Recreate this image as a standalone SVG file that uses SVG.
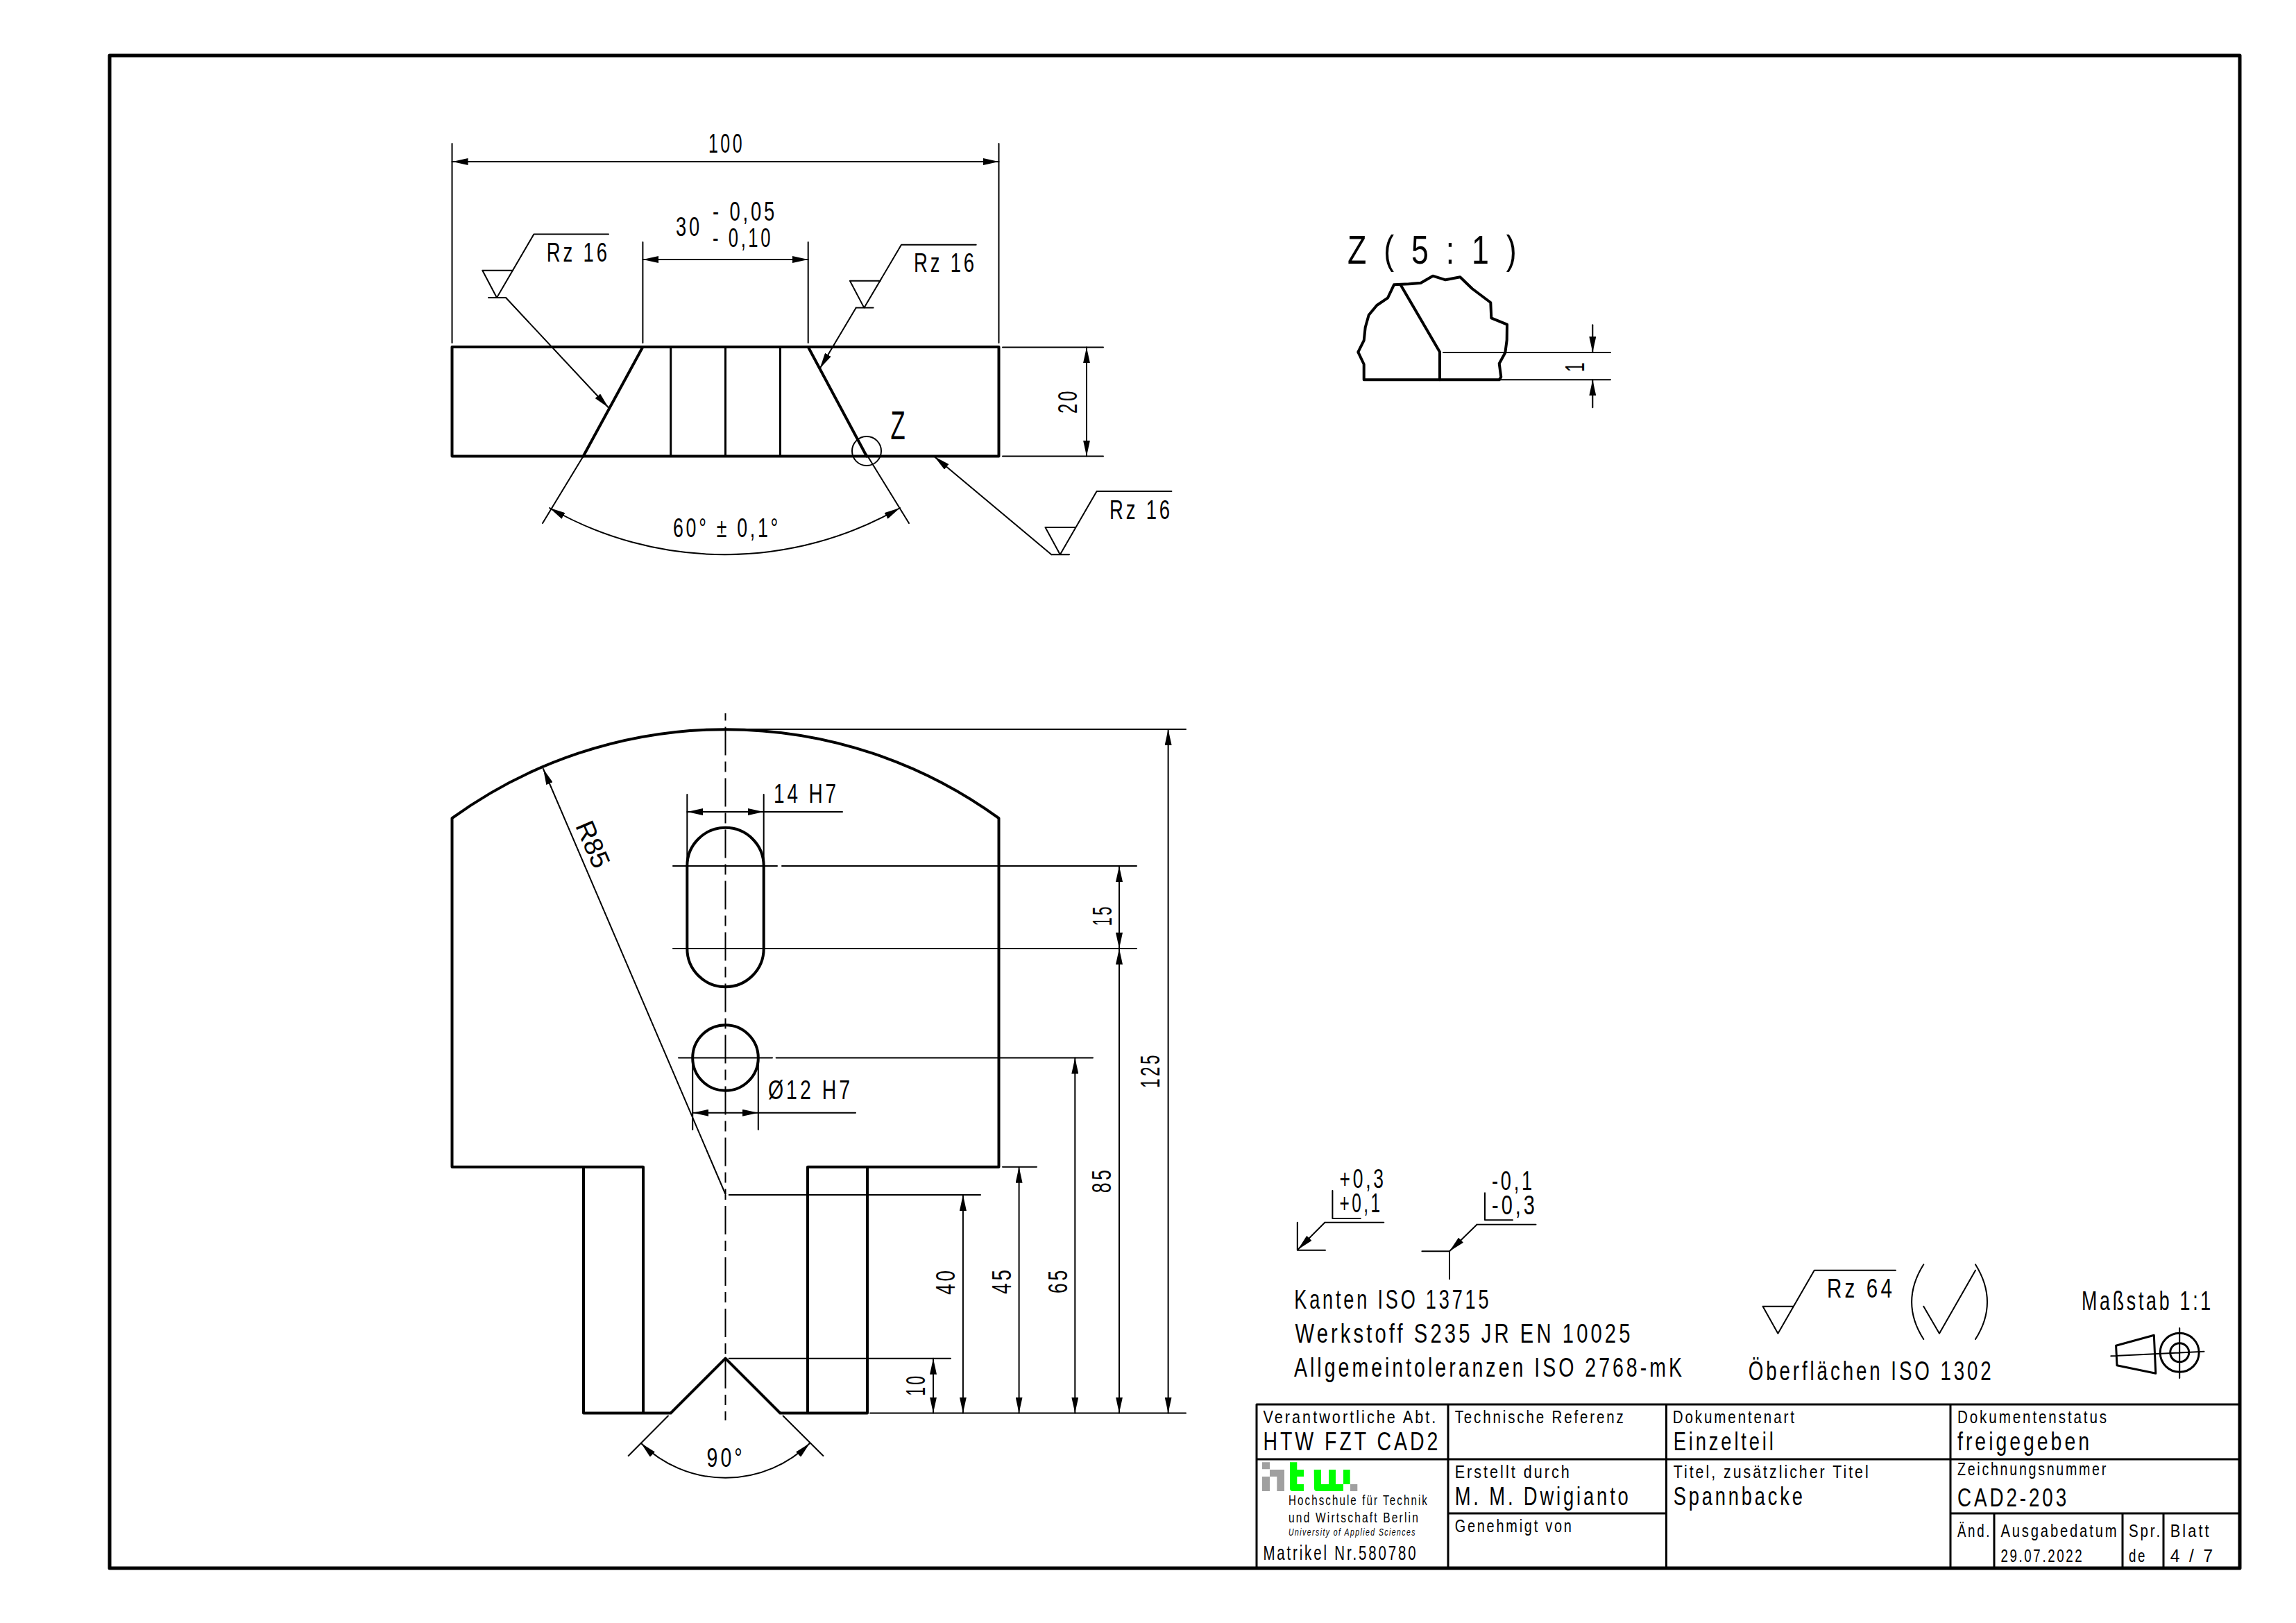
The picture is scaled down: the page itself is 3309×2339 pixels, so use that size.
<svg xmlns="http://www.w3.org/2000/svg" width="3309" height="2339" viewBox="0 0 3309 2339">
<style>
text{font-family:"Liberation Sans",Arial,sans-serif;fill:#000;font-size:39px;letter-spacing:.14em}
.s{font-size:26px}.m{font-size:36px}.l{font-size:57px}.xs{font-size:20px}.xxs{font-size:15px;font-style:italic}.n{font-size:29px}
.k,.h,.c,.b,.f{fill:none;stroke:#000;stroke-linecap:round;stroke-linejoin:round}
.k{stroke-width:4}.h{stroke-width:2}.f{stroke-width:5}.b{stroke-width:3}
.c{stroke-width:2;stroke-linecap:butt;stroke-dasharray:41 9 15 9}
.a{marker-start:url(#ar);marker-end:url(#ar)}.e{marker-end:url(#ar)}
.gy{fill:#a0a0a0}.gn{fill:#00ff00}
</style>
<defs>
<marker id="ar" viewBox="0 0 23 10" refX="23" refY="5" markerWidth="23" markerHeight="10" markerUnits="userSpaceOnUse" orient="auto-start-reverse"><path d="M0 0L23 5L0 10z" fill="#000"/></marker>
</defs>
<rect width="3309" height="2339" fill="#fff"/>
<rect id="frame" class="f" x="158" y="80" width="3070" height="2180"/>

<g id="top-view">
<path class="k" d="M651.5 500H1439.5V657.5H651.5Z"/>
<path class="k" d="M926.4 500L840.6 657.5M1164.7 500L1249 657.5"/>
<path class="k" d="M966.7 500V657.5M1045.5 500V657.5M1124.4 500V657.5" style="stroke-width:3"/>
<text class="l" x="1283.5" y="633" textLength="26" lengthAdjust="spacingAndGlyphs">Z</text>
</g>
<g id="top-view-dims">
<path class="h" d="M651.5 207V494M1439.5 207V494M926.4 349V494M1164.7 349V494M1445 500.4H1590M1445 657.5H1590M840.6 657.5L782 754M1249 655L1310 754"/>
<circle class="h" cx="1249" cy="650" r="21"/>
<path class="h a" d="M651.5 233H1439.5"/>
<path class="h a" d="M926.4 374H1164.7"/>
<path class="h a" d="M1566 500.4V657.5"/>
<path class="h a" d="M792 732A508 508 0 0 0 1297 732"/>
<text x="1021" y="220" textLength="52" lengthAdjust="spacingAndGlyphs">100</text>
<text x="974" y="340" textLength="38" lengthAdjust="spacingAndGlyphs">30</text>
<text x="1027" y="317.7" textLength="93" lengthAdjust="spacingAndGlyphs">- 0,05</text>
<text x="1027" y="355.7" textLength="87" lengthAdjust="spacingAndGlyphs">- 0,10</text>
<text transform="translate(1552 596) rotate(-90)" textLength="36" lengthAdjust="spacingAndGlyphs">20</text>
<text x="970" y="774" textLength="155" lengthAdjust="spacingAndGlyphs">60° ± 0,1°</text>
</g>
<g id="surface-left">
<path class="h" d="M877 337.5H769.4L716 429M695.3 389.7H739.3M695.3 389.7L716 429M704 429H729"/>
<path class="h e" d="M729 429L877 587.5"/>
<text x="787.8" y="377" textLength="91" lengthAdjust="spacingAndGlyphs">Rz 16</text>
</g>
<g id="surface-right">
<path class="h" d="M1406.7 352.7H1299L1245.4 443.6M1224.9 404.8H1268.9M1224.9 404.8L1245.4 443.6M1233.7 443.6H1258.6"/>
<path class="h e" d="M1233.7 443.6L1181.6 531"/>
<text x="1317" y="392" textLength="91" lengthAdjust="spacingAndGlyphs">Rz 16</text>
</g>
<g id="surface-bottom">
<path class="h" d="M1688.4 707.9H1580.6L1527.8 799.2M1506.5 760H1550.5M1506.5 760L1527.8 799.2M1515.3 799.2H1541"/>
<path class="h e" d="M1515.3 799.2L1346.6 658"/>
<text x="1599" y="747.5" textLength="91" lengthAdjust="spacingAndGlyphs">Rz 16</text>
</g>

<g id="detail-z">
<text class="l" x="1942" y="380" textLength="250" lengthAdjust="spacingAndGlyphs" style="font-size:58px">Z ( 5 : 1 )</text>
<path class="k" d="M1965.7 547.3V525L1957.3 507.3L1965.7 490.7L1967.7 471.7L1972.7 454L1984.3 440L2000 429.3L2009 410.3L2030 409.3L2047.7 407.7L2065 397.7L2083.3 403.3L2104.3 399.3L2121.7 416L2148.3 436L2149.3 458.3L2172 467.7L2171.7 490L2169.3 508.3L2160.7 524L2163.3 543.3L2160.7 547.3Z"/>
<path class="k" d="M2018.3 410L2075 507.3V547.3"/>
<path class="h" d="M2080 508H2321M2161.7 547.3H2321"/>
<path class="h e" d="M2295.3 468.3V508"/>
<path class="h e" d="M2295.3 587.3V547.3"/>
<text transform="translate(2282.7 536) rotate(-90)" textLength="17" lengthAdjust="spacingAndGlyphs">1</text>
</g>

<g id="front-view">
<path class="k" d="M651.5 1681.7V1179.2A670.1 670.1 0 0 1 1439.5 1179.2V1681.7H1164V2036.5M1250 1681.7V2036.5H1124.4L1045.5 1957.7L966.6 2036.5H841V1681.7M927 2036.5V1681.7H651.5"/>
<path class="k" d="M990.3 1248A55.2 55.2 0 0 1 1100.7 1248V1367A55.2 55.2 0 0 1 990.3 1367Z"/>
<circle class="k" cx="1045.5" cy="1524.5" r="47.3"/>
<path class="c" d="M1045.5 1028V1721" style="stroke-dashoffset:54.5"/>
<path class="c" d="M1045.5 1722V2047" style="stroke-dashoffset:58"/>
</g>
<g id="front-view-dims">
<path class="h" d="M1045 1051H1709M970 1248H1120M1127 1248H1638M970 1367H1638M978 1524.5H1113M1118.6 1524.5H1575M1445 1681.7H1494M1050.7 1722H1413M1050.7 1957.7H1370M1254 2036.5H1709"/>
<path class="h" d="M990.3 1145V1248M1100.7 1145V1248M998.2 1524.5V1628M1092.8 1524.5V1628M962.9 2040.5L905.7 2098M1128.6 2040.5L1186.4 2098"/>
<path class="h a" d="M990.3 1170H1100.7"/>
<path class="h" d="M1100.7 1170H1214"/>
<path class="h a" d="M998.2 1603.7H1092.8"/>
<path class="h" d="M1092.8 1603.7H1233"/>
<path class="h a" d="M1683.6 1051V2036.5"/>
<path class="h a" d="M1613 1248V1367"/>
<path class="h a" d="M1613 1367V2036.5"/>
<path class="h a" d="M1549.3 1524.5V2036.5"/>
<path class="h a" d="M1468.6 1681.7V2036.5"/>
<path class="h a" d="M1387.9 1722V2036.5"/>
<path class="h a" d="M1345 1957.7V2036.5"/>
<path class="h e" d="M1045.5 1721L782.9 1108"/>
<path class="h a" d="M924 2080A173 173 0 0 0 1167 2080"/>
<text x="1115" y="1157" textLength="94" lengthAdjust="spacingAndGlyphs">14 H7</text>
<text x="1107" y="1583.6" textLength="122" lengthAdjust="spacingAndGlyphs">Ø12 H7</text>
<text transform="translate(842.5 1222) rotate(66.8)" text-anchor="middle" style="font-size:38px;letter-spacing:0">R85</text>
<text transform="translate(1671 1568) rotate(-90)" textLength="51" lengthAdjust="spacingAndGlyphs">125</text>
<text transform="translate(1602 1334.5) rotate(-90)" textLength="31" lengthAdjust="spacingAndGlyphs">15</text>
<text transform="translate(1601 1719.3) rotate(-90)" textLength="37" lengthAdjust="spacingAndGlyphs">85</text>
<text transform="translate(1538 1864) rotate(-90)" textLength="37" lengthAdjust="spacingAndGlyphs">65</text>
<text transform="translate(1457 1865) rotate(-90)" textLength="39" lengthAdjust="spacingAndGlyphs">45</text>
<text transform="translate(1375.7 1866) rotate(-90)" textLength="39" lengthAdjust="spacingAndGlyphs">40</text>
<text transform="translate(1333 2011.7) rotate(-90)" textLength="32" lengthAdjust="spacingAndGlyphs">10</text>
<text x="1018.6" y="2113.8" textLength="55" lengthAdjust="spacingAndGlyphs">90°</text>
</g>

<g id="edge-symbols">
<text x="1930.6" y="1711.7" textLength="67" lengthAdjust="spacingAndGlyphs">+0,3</text>
<text x="1930.6" y="1747" textLength="62" lengthAdjust="spacingAndGlyphs">+0,1</text>
<path class="h" d="M1920.4 1716V1756H1960.8M1994.3 1761.7H1909.4M1869.8 1761.7V1801.7H1910"/>
<path class="h e" d="M1909.4 1761.7L1870.6 1800.7"/>
<text x="2150" y="1715" textLength="62" lengthAdjust="spacingAndGlyphs">-0,1</text>
<text x="2150" y="1750" textLength="66" lengthAdjust="spacingAndGlyphs">-0,3</text>
<path class="h" d="M2140 1719.3V1758.3H2180M2213.5 1764.7H2128.6M2049.4 1803.3H2089V1843.3"/>
<path class="h e" d="M2128.6 1764.7L2089 1803.3"/>
</g>
<g id="notes">
<text x="1865.3" y="1886" textLength="284" lengthAdjust="spacingAndGlyphs">Kanten ISO 13715</text>
<text x="1866.5" y="1935" textLength="487" lengthAdjust="spacingAndGlyphs">Werkstoff S235 JR EN 10025</text>
<text x="1865" y="1984" textLength="563" lengthAdjust="spacingAndGlyphs">Allgemeintoleranzen ISO 2768-mK</text>
</g>
<g id="surface-general">
<path class="h" d="M2732 1830.7H2614.8L2562.4 1921.7L2540.6 1882.7H2584.2"/>
<text x="2633" y="1870" textLength="98" lengthAdjust="spacingAndGlyphs">Rz 64</text>
<path class="h" d="M2772.3 1822.3Q2738 1876.7 2772.3 1930M2847 1822.3Q2881 1876.7 2847 1930M2772.3 1882.7L2795 1921.7L2847 1830.7"/>
<text x="2519.7" y="1989" textLength="354" lengthAdjust="spacingAndGlyphs">Öberflächen ISO 1302</text>
</g>
<g id="scale">
<text x="3000" y="1888.3" textLength="190" lengthAdjust="spacingAndGlyphs">Maßstab 1:1</text>
<path class="b" d="M3049.6 1939.3L3104.3 1924.3L3106.8 1979.3L3051 1967.7Z"/>
<circle class="b" cx="3141.2" cy="1949.3" r="28"/>
<circle class="b" cx="3141.2" cy="1949.3" r="13.5"/>
<path class="h" d="M3141.2 1914V1986M3042.3 1954.3L3176.5 1947.7"/>
</g>

<g id="title-block">
<path class="b" d="M1811 2260V2024H3228M1811 2103H3228M2087 2024V2260M2401.5 2024V2260M2811 2024V2260M2087 2181H2401.5M2811 2181H3228M2874 2181V2260M3059 2181V2260M3118 2181V2260"/>
<text class="s" x="1820.4" y="2051" textLength="252" lengthAdjust="spacingAndGlyphs">Verantwortliche Abt.</text>
<text class="m" x="1820.4" y="2090" textLength="256" lengthAdjust="spacingAndGlyphs">HTW FZT CAD2</text>
<text class="s" x="2096.7" y="2051" textLength="246" lengthAdjust="spacingAndGlyphs">Technische Referenz</text>
<text class="s" x="2410.8" y="2051" textLength="178" lengthAdjust="spacingAndGlyphs">Dokumentenart</text>
<text class="m" x="2411.7" y="2090" textLength="148" lengthAdjust="spacingAndGlyphs">Einzelteil</text>
<text class="s" x="2821" y="2051" textLength="218" lengthAdjust="spacingAndGlyphs">Dokumentenstatus</text>
<text class="m" x="2821" y="2090" textLength="194" lengthAdjust="spacingAndGlyphs">freigegeben</text>
<text class="s" x="2096.7" y="2130" textLength="168" lengthAdjust="spacingAndGlyphs">Erstellt durch</text>
<text class="m" x="2096.7" y="2169" textLength="254" lengthAdjust="spacingAndGlyphs">M. M. Dwigianto</text>
<text class="s" x="2096.7" y="2208.3" textLength="171" lengthAdjust="spacingAndGlyphs">Genehmigt von</text>
<text class="s" x="2411.7" y="2130" textLength="284" lengthAdjust="spacingAndGlyphs">Titel, zusätzlicher Titel</text>
<text class="m" x="2411.7" y="2169" textLength="190" lengthAdjust="spacingAndGlyphs">Spannbacke</text>
<text class="s" x="2821" y="2126" textLength="217" lengthAdjust="spacingAndGlyphs">Zeichnungsnummer</text>
<text class="m" x="2821" y="2170.7" textLength="161" lengthAdjust="spacingAndGlyphs">CAD2-203</text>
<text class="s" x="2821" y="2215" textLength="49" lengthAdjust="spacingAndGlyphs">Änd.</text>
<text class="s" x="2883.4" y="2215" textLength="170" lengthAdjust="spacingAndGlyphs">Ausgabedatum</text>
<text class="s" x="3068" y="2215" textLength="48" lengthAdjust="spacingAndGlyphs">Spr.</text>
<text class="s" x="3127.7" y="2215" textLength="59" lengthAdjust="spacingAndGlyphs">Blatt</text>
<text class="s" x="2883.4" y="2250.7" textLength="120" lengthAdjust="spacingAndGlyphs">29.07.2022</text>
<text class="s" x="3068" y="2250.7" textLength="26" lengthAdjust="spacingAndGlyphs">de</text>
<text class="s" x="3127.7" y="2250.7" textLength="65" lengthAdjust="spacingAndGlyphs">4 / 7</text>
<g id="logo">
<path class="gy" d="M1819 2107.3h11v10h-11zM1830 2118h21v10h-21zM1819 2128h11v21h-11zM1840.3 2128h10.7v21h-10.7zM1946 2139h10.3v10h-10.3z"/>
<path class="gn" d="M1859 2107.3h10.3v10.7h9.7v10h-9.7v11h9.7v10h-16q-4 0-4-4zM1893.7 2118h10.3v21h11v-21h10v21h11v-21h9.7v21h-9.7v10h-38q-4 0-4-4z"/>
</g>
<text class="xs" x="1857" y="2169.3" textLength="202" lengthAdjust="spacingAndGlyphs">Hochschule für Technik</text>
<text class="xs" x="1857" y="2194.3" textLength="189" lengthAdjust="spacingAndGlyphs">und Wirtschaft Berlin</text>
<text class="xxs" x="1857" y="2213" textLength="184" lengthAdjust="spacingAndGlyphs">University of Applied Sciences</text>
<text class="n" x="1820.4" y="2248.3" textLength="223" lengthAdjust="spacingAndGlyphs">Matrikel Nr.580780</text>
</g>
</svg>
